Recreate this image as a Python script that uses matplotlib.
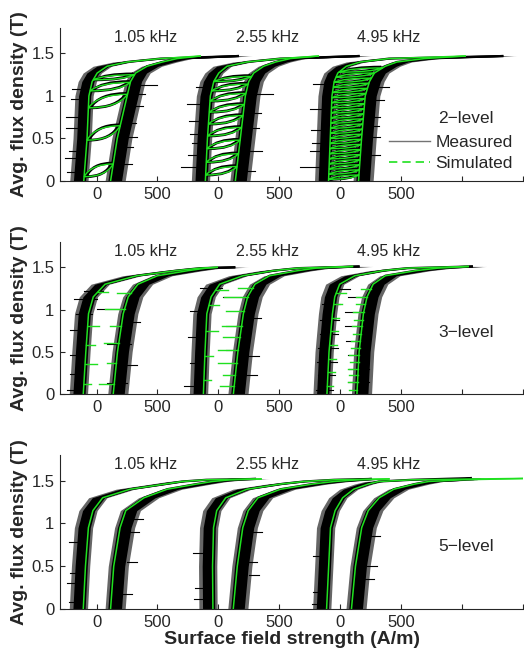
import numpy as np
import matplotlib
matplotlib.use("Agg")
import matplotlib.pyplot as plt
from matplotlib.path import Path
from matplotlib.patches import PathPatch
from matplotlib.lines import Line2D

plt.rcParams["font.family"] = ["Liberation Sans", "DejaVu Sans"]

# ---------------------------------------------------------------- labels / axes
FREQ_LABELS = ["1.05 kHz", "2.55 kHz", "4.95 kHz"]
LEVEL_LABELS = ["2\u2212level", "3\u2212level", "5\u2212level"]
LOOP_OFFSETS = [0, 1000, 2000]          # A/m shift of each frequency's loop
X_TICKS = [0, 500, 1000, 1500, 2000, 2500, 3000, 3500]
X_TICK_LABELS = ["0", "500", "0", "500", "0", "500", "", ""]
Y_TICKS = [0, 0.5, 1, 1.5]
Y_TICK_LABELS = ["0", "0.5", "1", "1.5"]

# ---------------------------------------------------------------- 2-level PWM
B_GRID_2 = [0.0, 0.5, 1.0, 1.17, 1.27, 1.35, 1.40, 1.44]
LEFT_H_2 = [[-105, -78, -63, -36, 5, 87, 251, 525],
            [-107, -90, -66, -38, 3, 71, 235, 508],
            [-96, -82, -68, -50, -20, 50, 164, 400]]
RIGHT_H_2 = [[115, 170, 251, 279, 320, 415, 540, 661],
             [139, 180, 221, 249, 290, 372, 470, 590],
             [150, 175, 205, 240, 280, 370, 465, 690]]
TIP_B_2 = [1.47, 1.47, 1.47]
TIP_SIM_2 = [850, 820, 1025]
TIP_MEAS_2 = [1160, 1150, 1330]
MINOR_2 = [
    [(0.05, 0.20), (0.48, 0.65), (0.86, 1.02), (1.06, 1.16), (1.19, 1.25)],
    [(0.07, 0.17), (0.22, 0.32), (0.38, 0.48), (0.53, 0.63), (0.67, 0.77),
     (0.81, 0.90), (0.94, 1.03), (1.06, 1.14), (1.17, 1.23)],
    [(0.02, 0.07), (0.08, 0.13), (0.14, 0.19), (0.20, 0.25), (0.26, 0.31),
     (0.32, 0.37), (0.38, 0.43), (0.44, 0.49), (0.50, 0.55), (0.56, 0.61),
     (0.62, 0.67), (0.68, 0.73), (0.74, 0.79), (0.80, 0.85), (0.86, 0.91),
     (0.92, 0.97), (0.98, 1.03), (1.04, 1.09), (1.10, 1.15), (1.16, 1.21),
     (1.22, 1.27), (1.28, 1.33)],
]
HAIRS_2 = [
    [(0.11, -240, -140), (0.27, -260, -150), (0.40, 190, 300), (0.52, 200, 330),
     (0.62, -250, -150), (0.75, -250, -140), (0.88, 240, 380), (1.02, 260, 400),
     (1.13, 330, 500), (0.96, -210, -120), (0.20, 200, 290), (0.68, 230, 320),
     (0.35, -230, -150), (1.08, -200, -110)],
    [(0.17, -310, -130), (0.30, -250, -140), (0.55, -230, -140), (0.70, -240, -150),
     (0.90, -260, -150), (1.10, -180, -40), (1.02, 300, 450), (0.35, 250, 360),
     (0.62, 230, 330), (0.80, 240, 350), (0.45, -220, -150), (0.12, 220, 300)],
    [(0.17, -330, -170), (0.35, -250, -150), (0.60, -240, -140), (0.85, -250, -150),
     (1.14, -220, -80), (0.30, 230, 330), (0.52, 230, 330), (0.75, 250, 330),
     (0.95, 260, 360), (1.10, 300, 400), (0.45, -230, -150), (0.65, 240, 320)],
]

# ---------------------------------------------------------------- 3-level PWM
B_GRID_3 = [0.0, 0.5, 0.95, 1.15, 1.3, 1.4, 1.46, 1.49]
LEFT_H_3 = [[-109, -88, -66, -27, 70, 330, 650, 850],
            [-123, -110, -95, -60, 10, 200, 450, 650],
            [-109, -92, -64, -45, -5, 120, 350, 550]]
RIGHT_H_3 = [[137, 172, 219, 260, 340, 500, 750, 900],
             [123, 160, 205, 240, 300, 420, 650, 800],
             [137, 155, 190, 220, 270, 370, 620, 800]]
TIP_B_3 = [1.50, 1.51, 1.51]
TIP_SIM_3 = [990, 1100, 1050]
TIP_MEAS_3 = [1130, 1150, 1080]
SPIKE_L_3 = [
    [(0.12, 60), (0.36, 96), (0.58, 70), (0.81, 96), (1.21, 82)],
    [(0.17, 60), (0.45, 70), (0.74, 96), (1.05, 80), (1.23, 100)],
    [(0.10, 50), (0.26, 60), (0.42, 60), (0.58, 60), (0.74, 60), (0.90, 60),
     (1.06, 70), (1.20, 80)],
]
SPIKE_R_3 = [
    [(0.12, 123), (0.37, 80), (0.60, 123), (0.80, 90), (1.01, 164), (1.20, 120)],
    [(0.10, 120), (0.23, 100), (0.37, 150), (0.52, 164), (0.68, 137), (0.81, 164),
     (0.98, 150), (1.15, 191), (1.26, 120)],
    [(0.05, 70), (0.14, 80), (0.22, 70), (0.30, 80), (0.38, 70), (0.46, 80),
     (0.55, 70), (0.63, 80), (0.71, 70), (0.80, 80), (0.88, 70), (0.97, 90),
     (1.06, 80), (1.15, 90), (1.24, 80)],
]
HAIRS_3 = [
    [(0.13, 87, 252), (0.24, -220, -130), (0.34, 200, 330), (0.46, -220, -110),
     (0.59, 88, 279), (0.76, -220, -140), (0.95, -172, -35), (1.01, 5, 252),
     (1.13, -186, 5), (0.85, 240, 360), (0.05, -240, -140), (1.22, -100, 50)],
    [(0.10, -280, -150), (0.23, 200, 320), (0.37, -230, -130), (0.52, 60, 230),
     (0.68, -250, -150), (0.81, 60, 240), (0.98, -230, -140), (1.15, 40, 270),
     (0.45, 220, 330), (0.90, 250, 350), (1.25, -150, 30)],
    [(0.05, -200, -60), (0.14, 60, 240), (0.22, -180, -40), (0.30, 70, 240),
     (0.38, -190, -30), (0.46, 60, 230), (0.55, -180, -20), (0.63, 50, 230),
     (0.71, -170, -20), (0.80, 40, 240), (0.88, -170, -10), (0.97, 40, 260),
     (1.06, -150, 0), (1.15, 60, 300), (1.24, -100, 80)],
]

# ---------------------------------------------------------------- 5-level PWM
B_GRID_5 = [0.0, 0.5, 0.95, 1.15, 1.3, 1.4, 1.46, 1.49, 1.51]
LEFT_H_5 = [[-109, -91, -67, -30, 50, 275, 560, 700, 900],
            [-45, -48, -40, -14, 60, 235, 510, 700, 950],
            [-112, -95, -80, -42, 20, 110, 230, 315, 588]]
RIGHT_H_5 = [[115, 141, 193, 240, 390, 580, 820, 950, 1100],
             [122, 155, 200, 245, 325, 510, 770, 950, 1150],
             [92, 125, 176, 230, 320, 440, 610, 725, 998]]
TIP_B_5 = [1.52, 1.52, 1.53]
TIP_SIM_5 = [1350, 1400, 1700]
TIP_MEAS_5 = [1300, 1250, 1070]
HAIRS_5 = [
    [(0.08, -230, -130), (0.30, -240, -140), (0.55, 250, 330), (0.78, -230, -150),
     (1.05, 300, 380), (0.18, 200, 290), (0.42, -220, -150), (0.90, 270, 350)],
    [(0.12, -200, -110), (0.40, 250, 330), (0.66, -210, -120), (0.90, 280, 360),
     (0.25, -190, -120), (0.55, 240, 320)],
    [(0.06, -230, -140), (0.35, 200, 280), (0.62, -220, -140), (0.85, 250, 330),
     (0.20, -220, -150), (0.50, 220, 300)],
]

GREEN = "#1fe01f"
MEAS_COLOR = "black"
TEXT_COLOR = "0.15"

PANELS = [
    dict(grid=B_GRID_2, left=LEFT_H_2, right=RIGHT_H_2, tip_b=TIP_B_2,
         tip_sim=TIP_SIM_2, tip_meas=TIP_MEAS_2, hairs=HAIRS_2, minor=MINOR_2),
    dict(grid=B_GRID_3, left=LEFT_H_3, right=RIGHT_H_3, tip_b=TIP_B_3,
         tip_sim=TIP_SIM_3, tip_meas=TIP_MEAS_3, hairs=HAIRS_3,
         spike_l=SPIKE_L_3, spike_r=SPIKE_R_3),
    dict(grid=B_GRID_5, left=LEFT_H_5, right=RIGHT_H_5, tip_b=TIP_B_5,
         tip_sim=TIP_SIM_5, tip_meas=TIP_MEAS_5, hairs=HAIRS_5),
]

AX_RECTS = [[0.1145, 0.722, 0.8836, 0.235],
            [0.1145, 0.3948, 0.8836, 0.2335],
            [0.1145, 0.0645, 0.8836, 0.2366]]


def branch(grid, hs, tip_b, tip_h, off):
    b = np.array(list(grid) + [tip_b], dtype=float)
    h = np.array(list(hs) + [tip_h], dtype=float) + off
    return h, b


def lens(ax, h_a, b_a, h_c, b_c, color, lw, z):
    dx = h_c - h_a
    verts = [(h_a, b_a), (h_a + 0.25 * dx, b_c), (h_c, b_c),
             (h_c - 0.25 * dx, b_a), (h_a, b_a)]
    codes = [Path.MOVETO, Path.CURVE3, Path.CURVE3, Path.CURVE3, Path.CURVE3]
    ax.add_patch(PathPatch(Path(verts, codes), fill=False, edgecolor=color,
                           lw=lw, zorder=z))


fig = plt.figure(figsize=(5.24, 6.51), dpi=100)

for p, (pan, rect) in enumerate(zip(PANELS, AX_RECTS)):
    ax = fig.add_axes(rect)
    for k, off in enumerate(LOOP_OFFSETS):
        # measured: noisy band around each branch
        hl, bl = branch(pan["grid"], pan["left"][k], pan["tip_b"][k], pan["tip_meas"][k], off)
        hr, br = branch(pan["grid"], pan["right"][k], pan["tip_b"][k], pan["tip_meas"][k], off)
        ax.fill_betweenx(bl, hl - 115, hl + 35, color=MEAS_COLOR, alpha=0.6, lw=0, zorder=1)
        ax.fill_betweenx(br, hr - 45, hr + 120, color=MEAS_COLOR, alpha=0.6, lw=0, zorder=1)
        ax.fill_betweenx(bl, hl - 85, hl + 15, color=MEAS_COLOR, lw=0, zorder=2)
        ax.fill_betweenx(br, hr - 22, hr + 90, color=MEAS_COLOR, lw=0, zorder=2)
        ax.plot(hl, bl, color=MEAS_COLOR, lw=1.6, zorder=2)
        ax.plot(hr, br, color=MEAS_COLOR, lw=1.6, zorder=2)
        for b0, h0, h1 in pan["hairs"][k]:
            ax.plot([h0 + off, h1 + off], [b0, b0], color=MEAS_COLOR, lw=0.8, zorder=3)

        # simulated branches
        sl, sbl = branch(pan["grid"], pan["left"][k], pan["tip_b"][k], pan["tip_sim"][k], off)
        sr, sbr = branch(pan["grid"], pan["right"][k], pan["tip_b"][k], pan["tip_sim"][k], off)
        if "minor" in pan:
            for b_lo, b_hi in pan["minor"][k]:
                ha = np.interp(b_lo, sbl, sl)
                hc = np.interp(b_hi, sbr, sr)
                lens(ax, ha + 15, b_lo, hc - 10, b_hi + 0.01, MEAS_COLOR, 2.0, 3)
                lens(ax, ha, b_lo, hc, b_hi, GREEN, 1.0, 5)
        if "spike_l" in pan:
            for b0, ln in pan["spike_l"][k]:
                h0 = np.interp(b0, sbl, sl)
                ax.plot([h0, h0 + ln], [b0, b0], color=GREEN, lw=1.0, zorder=5)
            for b0, ln in pan["spike_r"][k]:
                h0 = np.interp(b0, sbr, sr)
                ax.plot([h0, h0 - ln], [b0, b0], color=GREEN, lw=1.0, zorder=5)
        ax.plot(sl, sbl, color=GREEN, lw=1.1, zorder=6)
        ax.plot(sr, sbr, color=GREEN, lw=1.1, zorder=6)

        ax.text(400 + off, 1.69, FREQ_LABELS[k], ha="center", va="center",
                fontsize=11.5, color=TEXT_COLOR)

    ax.text(3030, 0.73, LEVEL_LABELS[p], ha="center", va="center",
            fontsize=12.5, color=TEXT_COLOR)

    ax.set_xlim(-300, 3500)
    ax.set_ylim(0, 1.8)
    ax.set_xticks(X_TICKS)
    ax.set_xticklabels(X_TICK_LABELS)
    ax.set_yticks(Y_TICKS)
    ax.set_yticklabels(Y_TICK_LABELS)
    ax.tick_params(direction="in", length=3.5, width=0.8, color=TEXT_COLOR,
                   labelsize=12, labelcolor=TEXT_COLOR, pad=4)
    for s in ("top", "right"):
        ax.spines[s].set_visible(False)
    for s in ("left", "bottom"):
        ax.spines[s].set_color(TEXT_COLOR)
        ax.spines[s].set_linewidth(0.8)
    ax.set_ylabel("Avg. flux density (T)", fontsize=14, fontweight="bold",
                  color=TEXT_COLOR, va="center")
    ax.yaxis.set_label_coords(-0.0875, 0.5)

    if p == 0:
        handles = [Line2D([], [], color="0.45", lw=1.0),
                   Line2D([], [], color=GREEN, lw=1.2, ls=(0, (5, 3)))]
        ax.legend(handles, ["Measured", "Simulated"], loc="upper left",
                  bbox_to_anchor=(0.71, 0.30), frameon=False, fontsize=12.5,
                  handlelength=2.4, handletextpad=0.3, labelspacing=0.35,
                  borderpad=0, borderaxespad=0, labelcolor=TEXT_COLOR)
    if p == 2:
        ax.set_xlabel("Surface field strength (A/m)", fontsize=14,
                      fontweight="bold", color=TEXT_COLOR)
        ax.xaxis.set_label_coords(0.5, -0.145)

fig.savefig("out.png", dpi=100)
